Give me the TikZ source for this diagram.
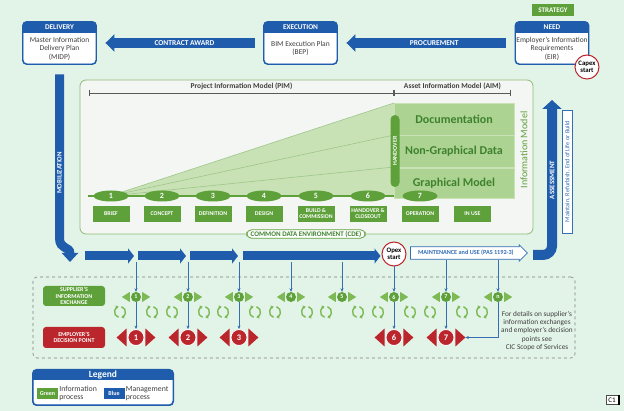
\documentclass[tikz,border=0pt]{standalone}
\usepackage{fontspec}
\setmainfont{Carlito}
\usetikzlibrary{arrows.meta,positioning,shapes.geometric,shapes.arrows}
\definecolor{mint}{RGB}{226,243,231}
\definecolor{pale}{RGB}{243,246,243}
\definecolor{mblue}{RGB}{31,93,172}
\definecolor{tblue}{RGB}{52,110,180}
\definecolor{sgreen}{RGB}{94,160,58}
\definecolor{tgreen}{RGB}{125,185,85}
\definecolor{dgreen}{RGB}{62,130,45}
\definecolor{lgreen}{RGB}{200,226,182}
\definecolor{mgreen}{RGB}{172,211,146}
\definecolor{sred}{RGB}{186,38,44}
\newcommand\fs[2]{\fontsize{#1}{#2}\selectfont}
\tikzset{
  bigarrow/.style={mblue,line width=10pt,-{Triangle[width=17pt,length=9pt]}},
  rowarrow/.style={mblue,line width=9pt,-{Triangle[width=15pt,length=6pt]}},
  vline/.style={tblue,line width=0.7pt,-{Stealth[length=3.5pt,width=3pt]}},
  phasebody/.style={draw=mblue,line width=0.9pt,fill=white,rounded corners=4pt,minimum width=73,minimum height=42},
  stagenum/.style={ellipse,fill=sgreen,text=white,minimum width=35,minimum height=11,inner sep=0pt,font=\fs{8}{8}\bfseries},
  stagebox/.style={fill=sgreen,text=white,minimum width=37,minimum height=16,inner sep=0pt,align=center,font=\fs{5.8}{6.2}\bfseries},
  layer/.style={fill=mgreen,draw=lgreen,minimum width=120,inner sep=0pt,text=dgreen,font=\fs{12}{13}\bfseries},
  startcirc/.style={circle,draw=sred,line width=1pt,fill=white,minimum size=24,inner sep=0pt,align=center,font=\fs{6.8}{7}\bfseries},
  sidelbl/.style={rounded corners=3pt,text=white,minimum width=62,inner sep=0pt,align=center,font=\fs{6}{6.5}\bfseries},
  gmark/.style={circle,fill=sgreen,text=white,minimum size=10,inner sep=0pt,font=\fs{6}{6}\bfseries},
  rmark/.style={circle,fill=sred,draw=white,line width=0.8pt,text=white,minimum size=16,inner sep=0pt,font=\fs{8.5}{8.5}\bfseries},
  cyc/.pic={\draw[tgreen,line width=1.4pt,-{Triangle[length=2.5pt,width=3.8pt]}] (105:5.5) arc (105:255:5.5);
            \draw[tgreen,line width=1.4pt,-{Triangle[length=2.5pt,width=3.8pt]}] (-75:5.5) arc (-75:75:5.5);}
}
\begin{document}
\begin{tikzpicture}[x=1pt,y=-1pt]
\fill[mint] (0,0) rectangle (624,411);
\useasboundingbox (0,0) rectangle (624,411);
\node[fill=sgreen,text=white,minimum width=42,minimum height=12,inner sep=0pt,font=\fs{7}{7}\bfseries] (strat) at (553,10.5) {STRATEGY};
\foreach \n/\x/\hd/\bd in {deliv/59.5/DELIVERY/{Master Information\\Delivery Plan\\(MIDP)},exec/300.5/EXECUTION/{BIM Execution Plan\\(BEP)},need/552/NEED/{Employer's Information\\Requirements\\(EIR)}}{
  \node[phasebody] (\n) at (\x,43) {};
  \begin{scope}
    \clip[rounded corners=4pt] (\n.north west) rectangle (\n.south east);
    \fill[mblue] (\n.north west) rectangle ([yshift=-11pt]\n.north east);
  \end{scope}
  \draw[mblue,line width=0.9pt,rounded corners=4pt] (\n.north west) rectangle (\n.south east);
  \node[text=white,font=\fs{7.3}{7.5}\bfseries] (\n-t) at ([yshift=-5.5pt]\n.north) {\hd};
  \node[align=center,text=black!75,font=\fs{7.5}{8.5}] (\n-b) at ([yshift=-5.5pt]\n.center) {\bd};
}
\draw[bigarrow] ([xshift=-9pt]exec.west) -- ([xshift=9pt]deliv.east) node[pos=0.47,text=white,font=\fs{7.5}{7.5}\bfseries] (award) {CONTRACT AWARD};
\draw[bigarrow] ([xshift=-9pt]need.west) -- ([xshift=9pt]exec.east) node[pos=0.45,text=white,font=\fs{7.5}{7.5}\bfseries] (procure) {PROCUREMENT};
\node[startcirc] (capex) at (587,67) {Capex\\start};
\node[draw=sgreen!70,line width=0.8pt,fill=pale,rounded corners=6pt,minimum width=453,minimum height=154,inner sep=0pt] (model) at (306.5,157) {};
\draw[{Bar[width=6pt]}-{Bar[width=6pt]},black!65,line width=0.6pt] (89,93) -- (394,93) node[midway,above=0pt,text=black!75,font=\fs{7.5}{8}\bfseries] (pim) {Project Information Model (PIM)};
\draw[{Bar[width=6pt]}-{Bar[width=6pt]},black!65,line width=0.6pt] (394,93) -- (511,93) node[midway,above=0pt,text=black!75,font=\fs{7.5}{8}\bfseries] (aim) {Asset Information Model (AIM)};
\fill[lgreen] (110,196) -- (394,103) -- (394,197) -- cycle;
\foreach \y in {103,135,167} \draw[sgreen!60,line width=0.6pt] (110,196) -- (394,\y);
\node[layer,minimum height=32] (docu) at (454,119) {Documentation};
\node[layer,minimum height=32,below=0pt of docu] (ngd) {Non-Graphical Data};
\node[layer,minimum height=30,below=0pt of ngd] (gm) {Graphical Model};
\node[fill=sgreen,text=white,rotate=90,minimum width=72,minimum height=9,inner sep=0pt,rounded corners=4.5pt,font=\fs{6}{6}\bfseries] (hand) at (395,151) {HANDOVER};
\node[rotate=90,text=sgreen,font=\fs{10}{10}] (infomod) at (524,150) {Information Model};
\draw[sgreen,line width=1.2pt] (88,196) -- (394,196);
\foreach \x/\n/\lbl in {111/1/BRIEF,162/2/CONCEPT,213/3/DEFINITION,264/4/DESIGN,316/5/{BUILD \&\\COMMISSION},368/6/{HANDOVER \&\\CLOSEOUT},420/7/OPERATION}{
  \node[stagenum] (s\n) at (\x,196) {\n};
  \node[stagebox,below=4pt of s\n] (b\n) {\lbl};
}
\node[stagebox,right=15pt of b7] (b8) {IN USE};
\node[draw=sgreen,line width=0.8pt,fill=white,rounded corners=5pt,inner ysep=1.2pt,inner xsep=4pt,text=dgreen,font=\fs{7}{7}\bfseries] (cde) at (306,234) {COMMON DATA ENVIRONMENT (CDE)};
\draw[mblue,line width=9pt,-{Triangle[width=16pt,length=9pt]}] ([yshift=-10pt]deliv.south) -- (59.5,238) .. controls (59.5,250) and (70,246) .. (70,262);
\node[rotate=90,text=white,font=\fs{6.8}{7}\bfseries] (mob) at (59.5,173) {MOBILIZATION};
\coordinate (rowmid) at (0,256);
\coordinate (rowbase) at (0,262);
\node[startcirc] (opex) at (394,254) {Opex\\start};
\foreach \s/\e in {85/134,138/186,190/238} \draw[rowarrow] (\s,256) -- (\e,256);
\draw[rowarrow] (243,256) -- ([xshift=-1pt]opex.west |- rowmid);
\node[single arrow,draw=tblue,line width=0.8pt,fill=white,single arrow head extend=2pt,minimum height=117,minimum width=16,inner xsep=2pt,inner ysep=3pt,text=tblue,font=\fs{6.2}{6.5}\bfseries,anchor=west] (maint) at (410,253) {MAINTENANCE and USE (PAS 1192-3)};
\coordinate (asstop) at (552,100);
\draw[mblue,line width=10pt,rounded corners=9pt,-{Triangle[width=19pt,length=9pt]}] (533,255) -| (asstop);
\node[rotate=90,text=white,font=\fs{7}{7}\bfseries] (assess) at (552,180) {ASSESSMENT};
\node[draw=tblue,line width=0.6pt,fill=white,rotate=90,minimum width=123,minimum height=10,inner sep=0.5pt,text=tblue,font=\fs{6.3}{6.5}] (mrb) at (567.5,171.5) {Maintain, Refurbish, End of Life or Build};
\node[draw=gray,dashed,line width=0.6pt,rounded corners=4pt,minimum width=542,minimum height=81,inner sep=0pt] (xbox) at (304,317.5) {};
\node[sidelbl,fill=sgreen,minimum height=20] (sie) at (74,296) {SUPPLIER'S\\INFORMATION\\EXCHANGE};
\node[sidelbl,fill=sred,minimum height=21] (edp) at (74,337.5) {EMPLOYER'S\\DECISION POINT};
\foreach \x/\n in {136/1,188/2,239/3,291/4,342/5,394/6,446/7,498/n}{
  \node[gmark] (g\n) at (\x,297) {\n};
  \fill[tgreen] ([xshift=-1pt]g\n.west) -- ++(0,-5) -- ++(-8,5) -- ++(8,5) -- cycle;
  \fill[tgreen] ([xshift=1pt]g\n.east) -- ++(0,-5) -- ++(8,5) -- ++(-8,5) -- cycle;
}
\foreach \x in {120,152,172,204,223,255,275,307,326,358,378,410,430,462,482} \pic at (\x,312) {cyc};
\foreach \n in {1,2,3,6,7}{
  \node[rmark] (r\n) at (g\n |- edp) {\n};
  \fill[sred] ([xshift=-1pt]r\n.west) -- ++(0,-9) -- ++(-10,9) -- ++(10,9) -- cycle;
  \fill[sred] ([xshift=1pt]r\n.east) -- ++(0,-9) -- ++(10,9) -- ++(-10,9) -- cycle;
  \draw[vline] (g\n.south) -- (r\n.north);
}
\foreach \n in {1,...,5} \draw[vline] (g\n |- rowbase) -- (g\n.north);
\draw[vline] (opex.south) -- (g6.north);
\foreach \n in {7,n} \draw[vline] (g\n |- maint.south) -- (g\n.north);
\draw[vline] (gn.south) |- ([xshift=11pt]r7.east);
\node[align=center,text=black!75,font=\fs{7.3}{8.4}] (note) at (537,331) {For details on supplier's\\information exchanges\\and employer's decision\\points see\\CIC Scope of Services};
\node[draw=mblue,line width=1pt,fill=white,rounded corners=4pt,minimum width=140,minimum height=35,inner sep=0pt] (legend) at (103,387.5) {};
\begin{scope}
  \clip[rounded corners=4pt] (legend.north west) rectangle (legend.south east);
  \fill[mblue] (legend.north west) rectangle ([yshift=-11pt]legend.north east);
\end{scope}
\draw[mblue,line width=1pt,rounded corners=4pt] (legend.north west) rectangle (legend.south east);
\node[text=white,font=\fs{9.5}{10}\bfseries] (legend-t) at ([yshift=-5.5pt]legend.north) {Legend};
\node[fill=sgreen,text=white,minimum width=21,minimum height=11,inner sep=0pt,font=\fs{6}{6}\bfseries] (kg) at (47.5,393.5) {Green};
\node[right=1pt of kg,align=left,inner sep=0pt,text=black!75,font=\fs{7.8}{7.8}] (kgt) {Information\\process};
\node[fill=mblue,text=white,minimum width=21,minimum height=11,inner sep=0pt,font=\fs{6}{6}\bfseries] (kb) at (114,393.5) {Blue};
\node[right=1pt of kb,align=left,inner sep=0pt,text=black!75,font=\fs{7.8}{7.8}] (kbt) {Management\\process};
\node[draw=black!70,fill=white,line width=0.5pt,minimum width=12,minimum height=9,inner sep=0pt,font=\fs{7}{7}] (cls) at (612,400) {C1};
\fill[black] (cls.north east) rectangle ([xshift=2pt]cls.south east);
\end{tikzpicture}
\end{document}
